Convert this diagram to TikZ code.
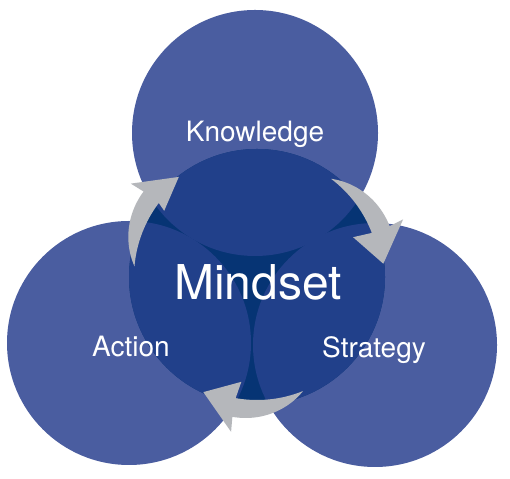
\documentclass[tikz,border=0pt]{standalone}
\usepackage{fontspec}
\setmainfont{TeX Gyre Heros}
\definecolor{outerblue}{HTML}{4A5DA0}
\definecolor{midblue}{HTML}{21408A}
\definecolor{gapblue}{HTML}{063474}
\definecolor{arrowgray}{HTML}{B5B7BB}
\begin{document}
\begin{tikzpicture}[x=1pt,y=1pt,
  lbl/.style={text=white,inner sep=0pt,anchor=base}]
\useasboundingbox (0,0) rectangle (510,478);
\fill[white] (0,0) rectangle (510,478);
% outer circles
\coordinate (T) at (255,345);
\coordinate (L) at (129,135);
\coordinate (R) at (375,133);
\coordinate (C) at (257,201);
\fill[outerblue] (T) circle[radius=123];
\fill[outerblue] (L) circle[radius=122];
\fill[outerblue] (R) circle[radius=122];
% central circle
\fill[gapblue] (C) circle[radius=128];
\begin{scope}
  \clip (C) circle[radius=128];
  \fill[midblue] (T) circle[radius=123];
  \fill[midblue] (L) circle[radius=122];
  \fill[midblue] (R) circle[radius=122];
\end{scope}
% arrows (tip angle / inner barb radius)
\foreach \t/\ib in {128/114,6/104,245/106}{
  \fill[arrowgray, shift={(257,201)}]
    plot[domain=47:15, samples=30, smooth]
      ({\t+\x}:{123+19*(1-(1-(47-\x)/32)^2)})
    -- ({\t+15.5}:157) -- (\t:127) -- ({\t+16.5}:\ib) -- ({\t+15}:123)
    arc[start angle=\t+15, end angle=\t+47, radius=123] -- cycle;
}
% labels
\node[lbl,font=\fontsize{28}{30}\selectfont] (k) at (255,336) {Knowledge};
\node[lbl,font=\fontsize{28}{30}\selectfont] (a) at (131,121) {Action};
\node[lbl,font=\fontsize{28}{30}\selectfont] (s) at (374,120) {Strategy};
\node[lbl,font=\fontsize{48}{50}\selectfont] (m) at (258,178) {Mindset};
\end{tikzpicture}
\end{document}
